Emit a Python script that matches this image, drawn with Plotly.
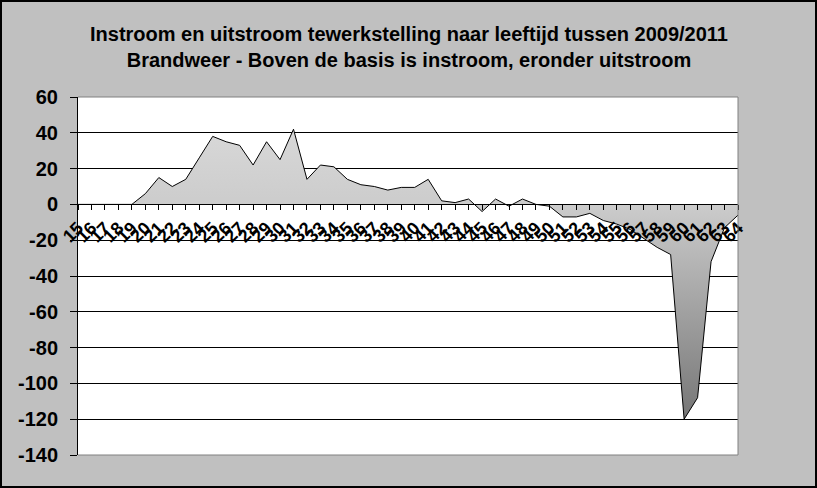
import plotly.graph_objects as go

ages = list(range(15, 65))
values = [0, 0, 0, 0, 0, 6, 15, 10, 14, 26, 38, 35, 33, 22, 35, 25, 42, 14, 22, 21,
          14, 11, 10, 8, 9.5, 9.5, 14, 2, 1, 3, -4, 3, -1, 3, 0, -1, -7, -7, -5, -9,
          -11, -14, -19, -24, -28, -120, -108, -32, -13, -6]
tick_labels = [str(a) for a in ages]
y_ticks = list(range(-140, 61, 20))
y_tick_labels = [str(v) for v in y_ticks]

title_lines = ["Instroom en uitstroom tewerkstelling naar leeftijd tussen 2009/2011",
               "Brandweer - Boven de basis is instroom, eronder uitstroom"]

W, H = 817, 488
L, R, T, B = 78, 79, 97, 33
pw, ph = W - L - R, H - T - B
ymin, ymax = -140, 60

font_family = "Liberation Sans, Arial, sans-serif"

fig = go.Figure()
fig.add_trace(go.Scatter(
    x=ages, y=values, mode="lines",
    line=dict(color="black", width=1),
    fill="tozeroy",
    fillgradient=dict(type="vertical",
                      colorscale=[[0, "#767676"], [0.74, "#cccccc"], [1, "#d8d8d8"]]),
    hoverinfo="skip", showlegend=False,
))

fig.update_layout(
    width=W, height=H,
    margin=dict(l=L, r=R, t=T, b=B),
    paper_bgcolor="#C0C0C0",
    plot_bgcolor="white",
    showlegend=False,
    xaxis=dict(
        range=[15, 64], anchor="free", position=(0 - ymin) / (ymax - ymin),
        tickmode="array", tickvals=ages, ticktext=tick_labels,
        ticks="outside", ticklen=5, tickcolor="black", tickwidth=1,
        showline=True, linecolor="black", linewidth=1,
        showgrid=False, zeroline=False, tickangle=-45,
        tickfont=dict(family=font_family, size=18, color="black", weight="bold"),
    ),
    yaxis=dict(
        range=[ymin, ymax], tickmode="array", tickvals=y_ticks, ticktext=y_tick_labels,
        ticks="outside", ticklen=7, tickcolor="black", ticklabelstandoff=8,
        showline=True, linecolor="black", linewidth=1,
        showgrid=True, gridcolor="black", gridwidth=1, zeroline=False,
        tickfont=dict(family=font_family, size=20, color="black", weight="bold"),
    ),
    shapes=[
        dict(type="line", xref="paper", yref="paper", x0=0, x1=1, y0=1, y1=1,
             line=dict(color="#808080", width=1), layer="above"),
        dict(type="line", xref="paper", yref="paper", x0=1, x1=1, y0=0, y1=1,
             line=dict(color="#808080", width=1), layer="above"),
        dict(type="line", xref="paper", yref="paper", x0=0, x1=1, y0=0, y1=0,
             line=dict(color="#808080", width=1), layer="above"),
        dict(type="rect", xref="paper", yref="paper",
             x0=(-L + 1) / pw, x1=(W - L - 1) / pw,
             y0=(-B + 1) / ph, y1=(H - B - 1) / ph,
             line=dict(color="black", width=2), layer="above"),
    ],
    annotations=[
        dict(text="<br>".join(title_lines), xref="paper", yref="paper",
             x=(W / 2 - L) / pw, y=(H - B - 47) / ph, xanchor="center", yanchor="middle",
             showarrow=False, align="center",
             font=dict(family=font_family, size=20, color="black", weight="bold")),
    ],
)

fig.write_html("out.html", config={"displayModeBar": False},
               post_script="document.body.style.margin='0';document.body.style.overflow='hidden';")
